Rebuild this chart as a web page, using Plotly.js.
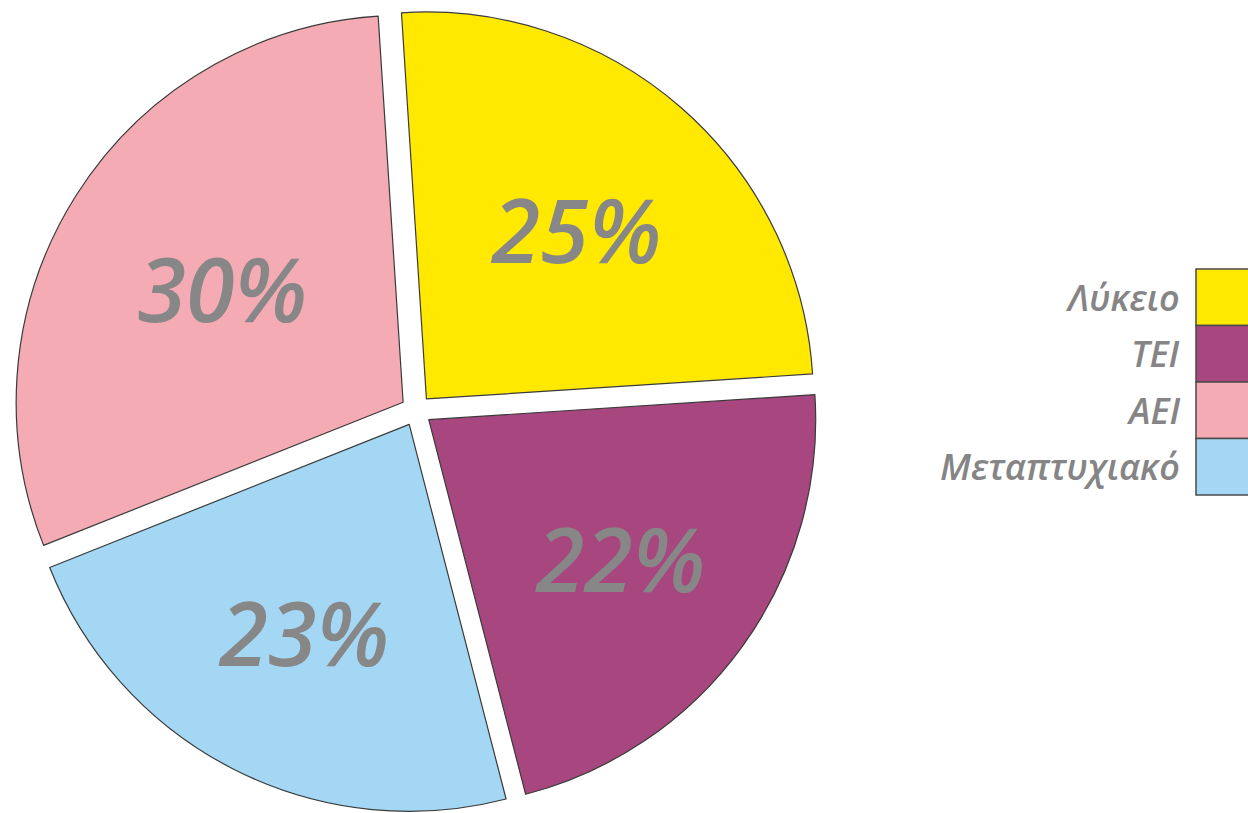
<!DOCTYPE html>
<html>
<head>
<meta charset="utf-8">
<script src="https://cdn.plot.ly/plotly-3.0.1.min.js"></script>
<style>html,body{margin:0;padding:0;background:#fff;}#chart{width:1248px;height:813px;}</style>
</head>
<body>
<div id="chart"></div>
<script>
// Slice order (clockwise from top)
const sliceLabels = ["Λύκειο", "TEI", "Μεταπτυχιακό", "AEI"];
const sliceValues = [25, 22, 23, 30];
const sliceColors = ["#FFE900", "#A8467F", "#A3D7F3", "#F4ABB4"];

// Legend order as shown in the reference
const legendLabels = ["Λύκειο", "TEI", "AEI", "Μεταπτυχιακό"];
const legendColors = ["#FFE900", "#A8467F", "#F4ABB4", "#A3D7F3"];

const W = 1248, H = 813;
const pie = {
  type: "pie",
  labels: sliceLabels,
  values: sliceValues,
  sort: false,
  direction: "clockwise",
  rotation: -3.7,
  pull: [0.04, 0.04, 0.04, 0.04],
  marker: {colors: sliceColors, line: {color: "#3a3a3a", width: 1.2}},
  textinfo: "percent",
  textposition: "inside",
  insidetextorientation: "horizontal",
  insidetextfont: {family: "Open Sans", size: 88, color: "#878787", style: "italic", weight: 600},
  hoverinfo: "label+percent",
  showlegend: false,
  domain: {x: [0.005, 0.662], y: [0.0, 0.99]}
};

// Manual legend built from the legend arrays
const rowTop = 269, rowH = 56.5, boxLeft = 1196, boxRight = 1262;
const shapes = [], annotations = [];
legendLabels.forEach((lab, i) => {
  const y0 = rowTop + i * rowH, y1 = y0 + rowH;
  shapes.push({
    type: "rect", xref: "paper", yref: "paper",
    x0: boxLeft / W, x1: boxRight / W, y0: 1 - y1 / H, y1: 1 - y0 / H,
    fillcolor: legendColors[i], line: {color: "#4a4a4a", width: 1.5}
  });
  annotations.push({
    xref: "paper", yref: "paper", x: 1182 / W, y: 1 - (y0 + rowH / 2) / H,
    xanchor: "right", yanchor: "middle", showarrow: false, text: lab,
    font: {family: "Open Sans", size: 36, color: "#858585", style: "italic", weight: 600}
  });
});

const layout = {
  width: W, height: H,
  margin: {l: 0, r: 0, t: 0, b: 0},
  paper_bgcolor: "#ffffff",
  plot_bgcolor: "#ffffff",
  showlegend: false,
  shapes: shapes,
  annotations: annotations
};
Plotly.newPlot("chart", [pie], layout, {displayModeBar: false, staticPlot: true});
</script>
</body>
</html>
